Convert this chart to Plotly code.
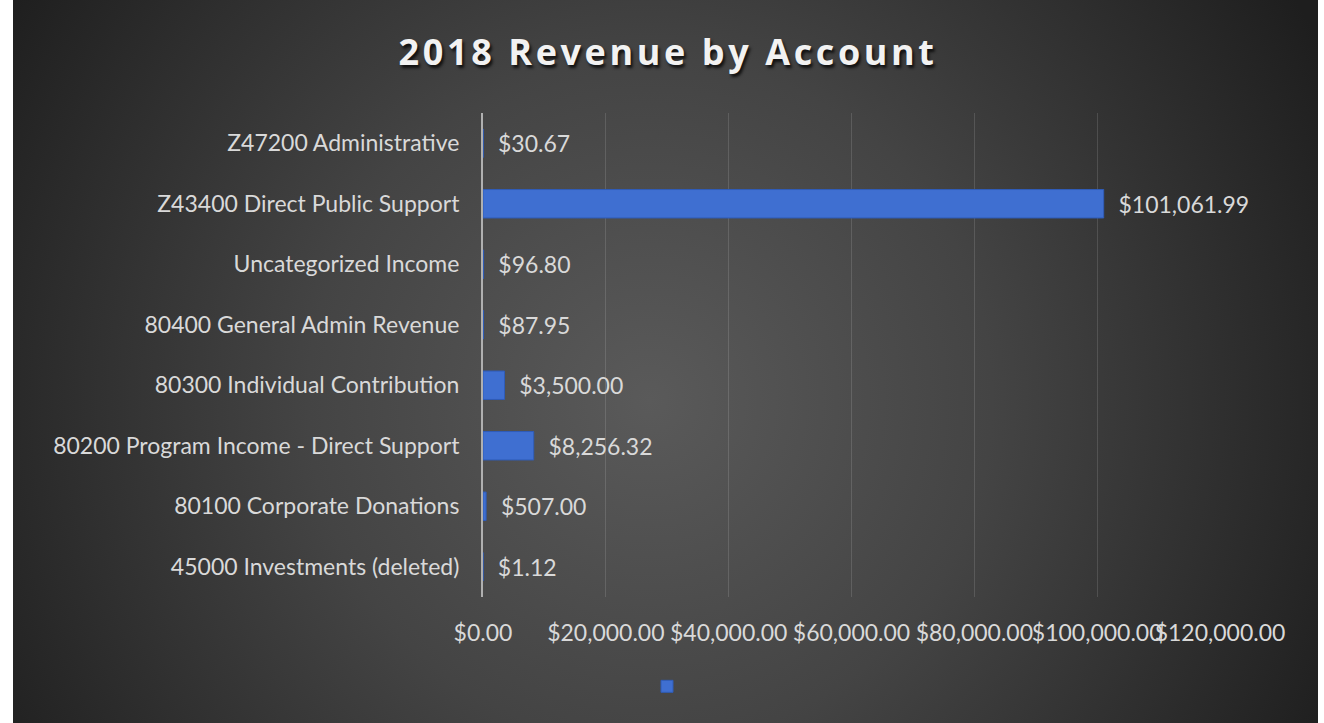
import base64
import plotly.graph_objects as go

# ---- data ----
accounts = [
    "Z47200 Administrative",
    "Z43400 Direct Public Support",
    "Uncategorized Income",
    "80400 General Admin Revenue",
    "80300 Individual Contribution",
    "80200 Program Income - Direct Support",
    "80100 Corporate Donations",
    "45000 Investments (deleted)",
]
revenue = [30.67, 101061.99, 96.80, 87.95, 3500.00, 8256.32, 507.00, 1.12]
x_ticks = [0, 20000, 40000, 60000, 80000, 100000, 120000]

W, H = 1324, 723
L, R, T, B = 483, 104, 113, 126
pw, ph = W - L - R, H - T - B

# radial gradient background (dark chart-style)
svg = f'''<svg xmlns="http://www.w3.org/2000/svg" width="{W}" height="{H}" viewBox="0 0 {W} {H}" preserveAspectRatio="none">
<defs><radialGradient id="g" gradientUnits="userSpaceOnUse" cx="650" cy="400" r="760">
<stop offset="0" stop-color="#5a5a5a"/><stop offset="0.45" stop-color="#444444"/><stop offset="1" stop-color="#1e1e1e"/>
</radialGradient></defs>
<rect x="0" y="0" width="{W}" height="{H}" fill="#ffffff"/>
<rect x="13" y="0" width="1305" height="{H}" fill="url(#g)"/>
</svg>'''
src = "data:image/svg+xml;base64," + base64.b64encode(svg.encode()).decode()

FONT = "Lato"
TXT = "#d9d9d9"

fig = go.Figure()
fig.add_trace(go.Bar(
    y=accounts, x=revenue, orientation="h",
    marker=dict(color="#3f6fd1", line=dict(color="#2f5cb8", width=1)),
    texttemplate="\u00a0\u00a0$%{x:,.2f}", textposition="outside",
    textfont=dict(family=FONT, size=23, color=TXT),
    cliponaxis=False, name=" ", showlegend=True,
))

fig.update_layout(
    width=W, height=H,
    margin=dict(l=L, r=R, t=T, b=B, autoexpand=False),
    paper_bgcolor="#ffffff", plot_bgcolor="rgba(0,0,0,0)",
    bargap=0.53,
    font=dict(family=FONT, color=TXT, size=23),
    images=[dict(source=src, xref="paper", yref="paper",
                 x=-L / pw, y=(H - B) / ph, sizex=W / pw, sizey=H / ph,
                 xanchor="left", yanchor="top", sizing="stretch", layer="below")],
    xaxis=dict(range=[0, 120000], tickvals=x_ticks, tickformat="$,.2f", tickangle=0,
               showgrid=True, gridcolor="rgba(255,255,255,0.13)", gridwidth=1,
               zeroline=False, showline=False, ticks="",
               ticklabelstandoff=20, tickfont=dict(family=FONT, size=23, color=TXT)),
    yaxis=dict(autorange="reversed", showline=True, linecolor="#b0b0b0", linewidth=2,
               showgrid=False, ticks="", ticklabelstandoff=17,
               tickfont=dict(family=FONT, size=23, color=TXT)),
    legend=dict(orientation="h", x=(673 - 483 - 26) / pw, y=(H - B - 696) / ph + 0.02,
                xanchor="left", yanchor="middle", bgcolor="rgba(0,0,0,0)",
                font=dict(size=12, color=TXT)),
    annotations=[
        dict(text="<b>2018 Revenue by Account</b>", xref="paper", yref="paper",
             x=(668 - L) / pw, y=(H - B - 51) / ph, showarrow=False,
             font=dict(family="Open Sans", size=36, color="#f2f2f2",
                       shadow="2px 3px 3px rgba(0,0,0,0.75)"),
             xanchor="center", yanchor="middle"),
    ],
)

post = ("document.body.style.margin='0';document.body.style.padding='0';"
        "document.querySelectorAll('.annotation-text').forEach(function(e){e.style.letterSpacing='3.6px';});")
fig.write_html("out.html", post_script=post, config={"displayModeBar": False})
